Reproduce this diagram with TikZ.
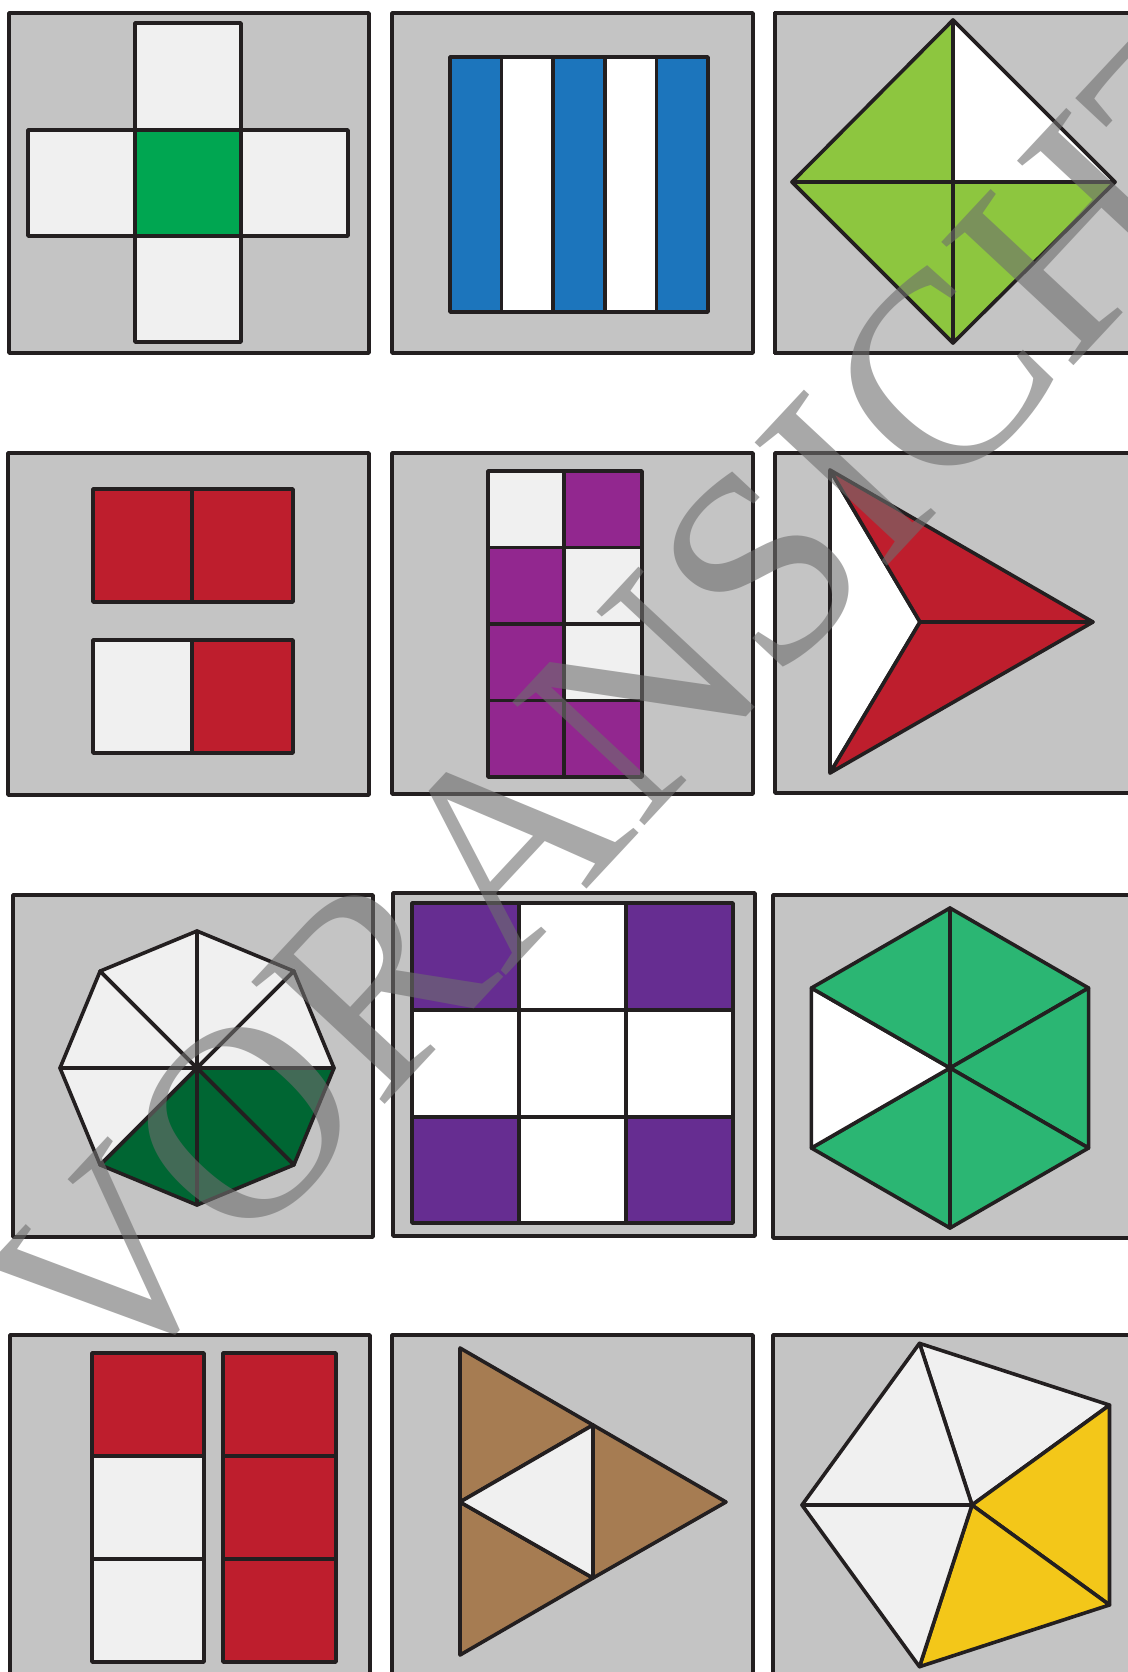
\documentclass[tikz,border=0pt]{standalone}
\usepackage{fontspec}
\newfontfamily\wmfont{Liberation Serif}
\usetikzlibrary{calc}
\definecolor{ink}{HTML}{231F20}
\definecolor{panelbg}{HTML}{C4C4C4}
\definecolor{lightx}{HTML}{F0F0F0}
\definecolor{greenx}{HTML}{00A651}
\definecolor{bluex}{HTML}{1C75BC}
\definecolor{limex}{HTML}{8DC63F}
\definecolor{redx}{HTML}{BE1E2D}
\definecolor{plumx}{HTML}{92278F}
\definecolor{forestx}{HTML}{006633}
\definecolor{violetx}{HTML}{662D91}
\definecolor{jadex}{HTML}{2BB673}
\definecolor{brownx}{HTML}{A67C52}
\definecolor{yellowx}{HTML}{F3C719}
\definecolor{wmgray}{HTML}{6E6E6E}
\tikzset{
  ln/.style={draw=ink,line width=1.8pt,line join=round},
  panel/.style={ln,fill=panelbg},
  wm/.style={text=wmgray,font=\wmfont\fontsize{138}{138}\selectfont,rotate=47,inner sep=0pt}
}
\newcommand{\panel}[4]{\filldraw[panel] (#1,#2) rectangle (#3,#4);}
\newcommand{\cell}[5]{\filldraw[ln,fill=#5] (#1,#2) rectangle (#3,#4);}

\begin{document}
\begin{tikzpicture}[x=0.5pt,y=-0.5pt]
\useasboundingbox (0,0) rectangle (1128,1672);
\clip (0,0) rectangle (1128,1672);
\fill[white] (0,0) rectangle (1128,1672);
% row 1
\panel{9}{13}{369}{353}
\cell{135}{23}{241}{130}{lightx}\cell{28}{130}{135}{236}{lightx}\cell{135}{130}{241}{236}{greenx}
\cell{241}{130}{348}{236}{lightx}\cell{135}{236}{241}{342}{lightx}
\panel{392}{13}{753}{353}
\foreach \xa/\xb/\c in {450/501.6/bluex,501.6/553.2/white,553.2/604.8/bluex,604.8/656.4/white,656.4/708/bluex}
  \cell{\xa}{57}{\xb}{312}{\c}
\panel{775}{13}{1140}{353}
\coordinate (dT) at (953,20);\coordinate (dL) at (792,182);\coordinate (dR) at (1115,182);
\coordinate (dB) at (953,343);\coordinate (dO) at (953,182);
\filldraw[ln,fill=limex] (dT)--(dL)--(dO)--cycle;
\filldraw[ln,fill=white] (dT)--(dO)--(dR)--cycle;
\filldraw[ln,fill=limex] (dL)--(dB)--(dO)--cycle;
\filldraw[ln,fill=limex] (dO)--(dB)--(dR)--cycle;
% row 2
\panel{8}{453}{369}{795}
\cell{93}{489}{192}{602}{redx}\cell{192}{489}{293}{602}{redx}
\cell{93}{640}{192}{753}{lightx}\cell{192}{640}{293}{753}{redx}
\panel{392}{453}{753}{794}
\foreach \ya/\yb/\ca/\cb in {471/547.5/lightx/plumx,547.5/624/plumx/lightx,624/700.5/plumx/lightx,700.5/777/plumx/plumx}{
  \cell{488}{\ya}{564}{\yb}{\ca}\cell{564}{\ya}{642}{\yb}{\cb}}
\panel{775}{453}{1140}{793}
\coordinate (aT) at (830,470);\coordinate (aB) at (830,773);
\coordinate (aP) at (1093,622);\coordinate (aN) at (920,622);
\filldraw[ln,fill=white] (aT)--(aN)--(aB)--cycle;
\filldraw[ln,fill=redx] (aT)--(aP)--(aN)--cycle;
\filldraw[ln,fill=redx] (aN)--(aP)--(aB)--cycle;
% row 3
\panel{13}{895}{373}{1237}
\begin{scope}[shift={(197,1068)}]
\foreach \a/\c in {0/forestx,45/forestx,90/forestx,135/lightx,180/lightx,225/lightx,270/lightx,315/lightx}
  \filldraw[ln,fill=\c] (0,0)--(\a:137)--(\a+45:137)--cycle;
\end{scope}
\panel{393}{893}{755}{1236}
\foreach \ya/\yb/\ca/\cb in {903/1010/violetx/white,1010/1117/white/white,1117/1223/violetx/white}{
  \cell{412}{\ya}{519}{\yb}{\ca}\cell{519}{\ya}{626}{\yb}{\cb}\cell{626}{\ya}{733}{\yb}{\ca}}
\panel{773}{895}{1140}{1238}
\begin{scope}[shift={(950,1068)}]
\foreach \a/\c in {-90/jadex,-30/jadex,30/jadex,90/jadex,150/white,210/jadex}
  \filldraw[ln,fill=\c] (0,0)--(\a:160)--(\a+60:160)--cycle;
\end{scope}
% row 4
\panel{10}{1335}{370}{1690}
\cell{92}{1353}{204}{1456}{redx}\cell{92}{1456}{204}{1559}{lightx}\cell{92}{1559}{204}{1662}{lightx}
\cell{223}{1353}{336}{1456}{redx}\cell{223}{1456}{336}{1559}{redx}\cell{223}{1559}{336}{1662}{redx}
\panel{392}{1335}{753}{1690}
\coordinate (tT) at (460,1348);\coordinate (tB) at (460,1655);\coordinate (tP) at (726,1502);
\coordinate (tL) at (460,1502);\coordinate (tU) at (593,1425);\coordinate (tD) at (593,1578);
\filldraw[ln,fill=brownx] (tT)--(tU)--(tL)--cycle;
\filldraw[ln,fill=brownx] (tL)--(tD)--(tB)--cycle;
\filldraw[ln,fill=brownx] (tU)--(tP)--(tD)--cycle;
\filldraw[ln,fill=lightx] (tL)--(tU)--(tD)--cycle;
\panel{773}{1335}{1140}{1690}
\begin{scope}[shift={(972,1505)}]
\foreach \a/\c in {-108/lightx,-36/yellowx,36/yellowx,108/lightx,180/lightx}
  \filldraw[ln,fill=\c] (0,0)--(\a:170)--(\a+72:170)--cycle;
\end{scope}
\begin{scope}[transparency group,opacity=0.6]
\node[wm] (wm) at (648,692) {VORANSICHT};
\end{scope}
\end{tikzpicture}
\end{document}
